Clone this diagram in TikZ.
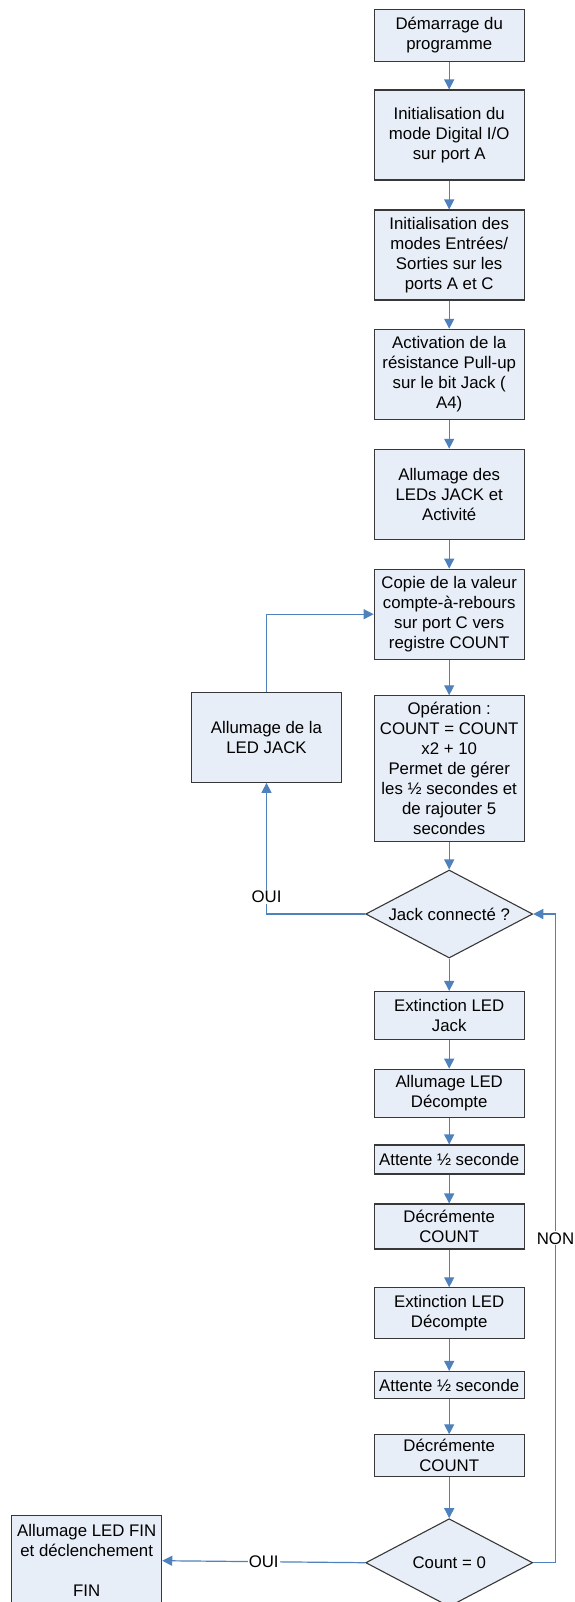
\documentclass[tikz,border=0pt]{standalone}
\usepackage{fontspec}
\setmainfont{Liberation Sans}
\usetikzlibrary{arrows.meta}
\usetikzlibrary{shapes.geometric}
\definecolor{boxfill}{HTML}{E8EEF7}
\definecolor{boxline}{HTML}{383838}
\definecolor{flowblue}{HTML}{4F81BD}

\begin{document}
\begin{tikzpicture}[x=1bp, y=-1bp,
  box/.style={draw=boxline, fill=boxfill, line width=1.1bp, align=center,
    minimum width=150bp, inner sep=0pt, font=\fontsize{16.8bp}{20bp}\selectfont},
  decision/.style={diamond, aspect=1.9, draw=boxline, fill=boxfill, line width=1.1bp,
    inner sep=0pt, minimum width=167bp, minimum height=88bp,
    font=\fontsize{16.8bp}{20bp}\selectfont},
  flow/.style={draw=flowblue, line width=1.2bp, -{Triangle[width=10bp,length=10bp]}},
  lbl/.style={fill=white, inner sep=1bp, font=\fontsize{16.8bp}{20bp}\selectfont}]
  \useasboundingbox (0,0) rectangle (575,1602);
  \clip (0,0) rectangle (575,1602);

  \node[box, minimum height=52bp] (start) at (449.2,35.2) {Démarrage du\\programme};
  \node[box, minimum height=90bp] (initdio) at (449.2,135) {Initialisation du\\mode Digital I/O\\sur port A};
  \node[box, minimum height=90bp] (initio) at (449.2,255) {Initialisation des\\modes Entrées/\\Sorties sur les\\ports A et C};
  \node[box, minimum height=90bp] (pullup) at (449.2,374.3) {Activation de la\\résistance Pull-up\\sur le bit Jack (\\A4)};
  \node[box, minimum height=90bp] (leds) at (449.2,494.3) {Allumage des\\LEDs JACK et\\Activité};
  \node[box, minimum height=90bp] (copie) at (449.2,614.2) {Copie de la valeur\\compte-à-rebours\\sur port C vers\\registre COUNT};
  \node[box, minimum height=146bp] (operation) at (449.2,768.8) {Opération :\\COUNT = COUNT\\x2 + 10\\Permet de gérer\\les ½ secondes et\\de rajouter 5\\secondes};
  \node[box, minimum height=90bp] (ledjack) at (266.5,737.3) {Allumage de la\\LED JACK};

  \node[decision] (jack) at (449.2,914) {Jack connecté ?};

  \node[box, minimum height=48bp] (extjack) at (449.2,1015.5) {Extinction LED\\Jack};
  \node[box, minimum height=48bp] (allumdec) at (449.2,1093.2) {Allumage LED\\Décompte};
  \node[box, minimum height=29bp] (attente1) at (449.2,1159.5) {Attente ½ seconde};
  \node[box, minimum height=45bp] (decr1) at (449.2,1226.5) {Décrémente\\COUNT};
  \node[box, minimum height=51bp] (extdec) at (449.2,1313.3) {Extinction LED\\Décompte};
  \node[box, minimum height=27bp] (attente2) at (449.2,1385) {Attente ½ seconde};
  \node[box, minimum height=42bp] (decr2) at (449.2,1455.8) {Décrémente\\COUNT};

  \node[decision] (count) at (449.2,1562.7) {Count = 0};
  \node[box, minimum height=90bp] (fin) at (86.7,1560.7) {Allumage LED FIN\\et déclenchement\\[20bp]FIN};

  \coordinate (nonbend) at (555.5,1562.7);

  \draw[flow] (start) -- (initdio);
  \draw[flow] (initdio) -- (initio);
  \draw[flow] (initio) -- (pullup);
  \draw[flow] (pullup) -- (leds);
  \draw[flow] (leds) -- (copie);
  \draw[flow] (copie) -- (operation);
  \draw[flow] (operation) -- (jack);
  \draw[flow] (ledjack.north) |- (copie.west);
  \draw[flow] (jack.west) -| node[lbl, pos=0.565] {OUI} (ledjack.south);
  \draw[flow] (jack) -- (extjack);
  \draw[flow] (extjack) -- (allumdec);
  \draw[flow] (allumdec) -- (attente1);
  \draw[flow] (attente1) -- (decr1);
  \draw[flow] (decr1) -- (extdec);
  \draw[flow] (extdec) -- (attente2);
  \draw[flow] (attente2) -- (decr2);
  \draw[flow] (decr2) -- (count);
  \draw[flow] (count.east) -- (nonbend) |- node[lbl, pos=0.25] {NON} (jack.east);
  \draw[flow] (count.west) -- node[lbl] {OUI} (fin.east);

\end{tikzpicture}
\end{document}
